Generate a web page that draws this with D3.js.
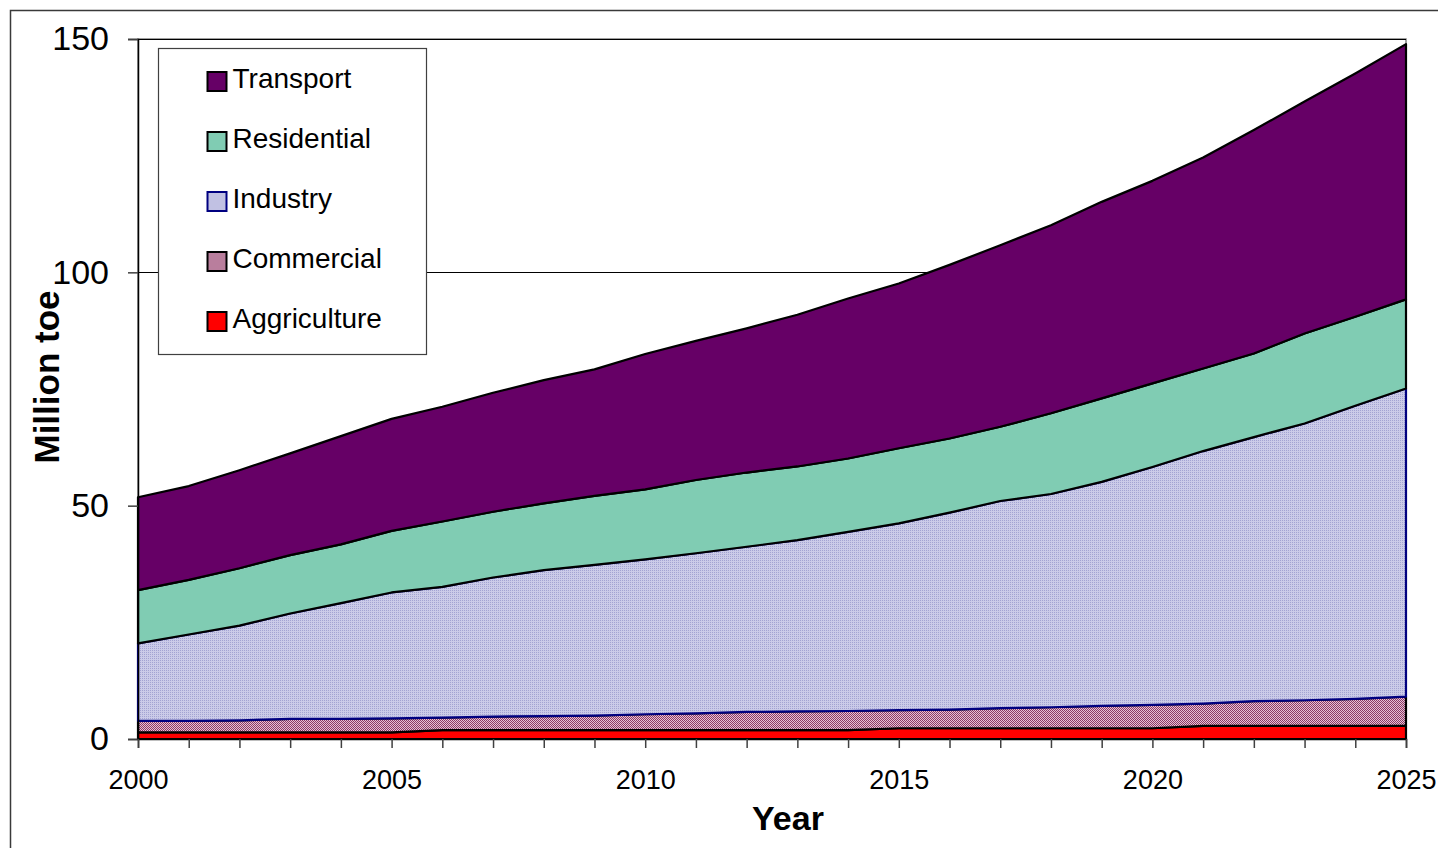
<!DOCTYPE html>
<html>
<head>
<meta charset="utf-8">
<script src="https://cdn.jsdelivr.net/npm/d3@7"></script>
<style>
  html, body { margin: 0; padding: 0; background: #fff; }
  svg { display: block; font-family: "Liberation Sans", Arial, sans-serif; }
</style>
</head>
<body>
<svg id="chart" width="1438" height="848"></svg>
<script>
// Final energy demand by sector, stacked area (Million toe), 2000–2025.
const years = d3.range(2000, 2026);

// series values (not cumulative)
const agriculture = [1.4,1.4,1.4,1.4,1.4,1.4,1.9,1.9,1.9,1.9,1.9,1.9,1.9,1.9,1.9,2.3,2.3,2.3,2.3,2.3,2.3,2.8,2.8,2.8,2.8,2.8];
const commercial  = [2.5,2.5,2.6,2.9,2.9,3.0,2.7,2.9,3.0,3.1,3.4,3.6,3.9,4.0,4.1,3.9,4.0,4.3,4.5,4.8,5.0,4.8,5.3,5.5,5.8,6.3];
const industry    = [16.6,18.5,20.3,22.6,24.8,27.0,28.0,29.8,31.3,32.3,33.2,34.3,35.4,36.7,38.4,40.0,42.2,44.4,45.7,48.0,51.0,54.1,56.6,59.3,62.8,66.0];
const residential = [11.4,11.7,12.3,12.5,12.6,13.2,14.0,14.1,14.3,14.8,15.0,15.7,15.9,15.8,15.7,16.1,15.9,15.9,17.3,17.9,17.9,17.7,17.9,19.3,19.1,19.1];
const transport   = [19.9,20.1,21.0,21.8,23.2,24.0,24.6,25.5,26.4,27.1,29.0,29.8,30.9,32.5,34.3,35.3,37.2,38.9,40.3,42.1,43.4,45.2,47.9,49.7,52.1,54.7];

// stacking order bottom → top; legend lists them top → bottom
const seriesKeys   = ["Aggriculture", "Commercial", "Industry", "Residential", "Transport"];
const seriesValues = [agriculture, commercial, industry, residential, transport];
const yTicks = [0, 50, 100, 150];
const xLabelYears = [2000, 2005, 2010, 2015, 2020, 2025];

const FILL = {
  Transport:    "#660066",
  Residential:  "#80ccb3",
  Industry:     "url(#patIndustry)",
  Commercial:   "url(#patCommercial)",
  Aggriculture: "#ff0000"
};
const EDGE = {
  Transport: "#000", Residential: "#000", Industry: "#000080",
  Commercial: "#000", Aggriculture: "#000"
};

const table = years.map(function (yr, i) {
  const row = { year: yr };
  seriesKeys.forEach(function (k, j) { row[k] = seriesValues[j][i]; });
  return row;
});

const svg = d3.select("#chart");
const defs = svg.append("defs");

// fine dotted textures, like Excel's pattern fills
function pattern(id, light, dark, checker) {
  const p = defs.append("pattern")
    .attr("id", id).attr("width", 2).attr("height", 2)
    .attr("patternUnits", "userSpaceOnUse");
  p.append("rect").attr("width", 2).attr("height", 2).attr("fill", light);
  p.append("rect").attr("x", 0).attr("y", 0).attr("width", 1).attr("height", 1).attr("fill", dark);
  if (checker) {
    p.append("rect").attr("x", 1).attr("y", 1).attr("width", 1).attr("height", 1).attr("fill", dark);
  }
}
pattern("patIndustry", "#cbcbe8", "#a3a3d2", false);
pattern("patCommercial", "#e6c2d4", "#8c3a66", true);

// outer chart frame
svg.append("rect")
  .attr("x", 10.5).attr("y", 10.5).attr("width", 1500).attr("height", 900)
  .attr("fill", "#fff").attr("stroke", "#3a3a3a").attr("stroke-width", 1.5);

const x = d3.scaleLinear().domain([2000, 2025]).range([138, 1406]);
const y = d3.scaleLinear().domain([0, 150]).range([739, 39]);

// plot area border
svg.append("rect")
  .attr("x", x(2000)).attr("y", y(150))
  .attr("width", x(2025) - x(2000)).attr("height", y(0) - y(150))
  .attr("fill", "none").attr("stroke", "#808080").attr("stroke-width", 1.5);

// gridlines
svg.append("g").selectAll("line")
  .data(yTicks.filter(function (d) { return d > 0; }))
  .join("line")
  .attr("x1", x(2000)).attr("x2", x(2025))
  .attr("y1", function (d) { return Math.round(y(d)) + 0.5; })
  .attr("y2", function (d) { return Math.round(y(d)) + 0.5; })
  .attr("stroke", "#000").attr("stroke-width", 1);

// stacked areas
const stack = d3.stack().keys(seriesKeys);
const layers = stack(table);

const area = d3.area()
  .x(function (d) { return x(d.data.year); })
  .y0(function (d) { return y(d[0]); })
  .y1(function (d) { return y(d[1]); });

svg.append("g").selectAll("path")
  .data(layers)
  .join("path")
  .attr("d", function (d) { return area(d) + "Z"; })
  .attr("fill", function (d) { return FILL[d.key]; })
  .attr("stroke", function (d) { return EDGE[d.key]; })
  .attr("stroke-width", 2.2)
  .attr("stroke-linejoin", "round");

// y axis
const yAxis = svg.append("g")
  .attr("transform", "translate(" + x(2000) + ",0)")
  .call(d3.axisLeft(y).tickValues(yTicks).tickSize(10).tickPadding(19).tickFormat(d3.format("d")));
yAxis.select(".domain").attr("stroke", "#000").attr("stroke-width", 1.5);
yAxis.selectAll(".tick line").attr("stroke", "#404040").attr("stroke-width", 1.5);
yAxis.selectAll("text")
  .attr("font-size", 34).attr("fill", "#000")
  .attr("font-family", "'Liberation Sans', Arial, sans-serif");

// x axis: tick every year, labels every five
const xAxis = svg.append("g")
  .attr("transform", "translate(0," + y(0) + ")")
  .call(d3.axisBottom(x).tickValues(years).tickSize(9).tickPadding(22)
    .tickFormat(function (d) { return xLabelYears.indexOf(d) >= 0 ? String(d) : ""; }));
xAxis.select(".domain").attr("stroke", "#000").attr("stroke-width", 1.5);
xAxis.selectAll(".tick line").attr("stroke", "#404040").attr("stroke-width", 1.5);
xAxis.selectAll("text")
  .attr("font-size", 27).attr("fill", "#000")
  .attr("font-family", "'Liberation Sans', Arial, sans-serif");

// axis titles
svg.append("text")
  .attr("x", 788).attr("y", 830)
  .attr("text-anchor", "middle")
  .attr("font-size", 34).attr("font-weight", "bold")
  .text("Year");

svg.append("text")
  .attr("transform", "translate(59,377) rotate(-90)")
  .attr("text-anchor", "middle")
  .attr("font-size", 35).attr("font-weight", "bold")
  .text("Million toe");

// legend
const legend = svg.append("g").attr("transform", "translate(158.5,48.5)");
legend.append("rect")
  .attr("width", 268).attr("height", 306)
  .attr("fill", "#fff").attr("stroke", "#404040").attr("stroke-width", 1.2);

const legendKeys = seriesKeys.slice().reverse();
const item = legend.selectAll("g.item")
  .data(legendKeys)
  .join("g")
  .attr("class", "item")
  .attr("transform", function (d, i) { return "translate(0," + (33 + i * 60) + ")"; });

item.append("rect")
  .attr("x", 49).attr("y", -9.5).attr("width", 19).attr("height", 19)
  .attr("fill", function (d) { return FILL[d]; })
  .attr("stroke", function (d) { return EDGE[d]; })
  .attr("stroke-width", 2);

item.append("text")
  .attr("x", 74).attr("y", 6)
  .attr("font-size", 28)
  .attr("fill", "#000")
  .text(function (d) { return d; });
</script>
</body>
</html>
